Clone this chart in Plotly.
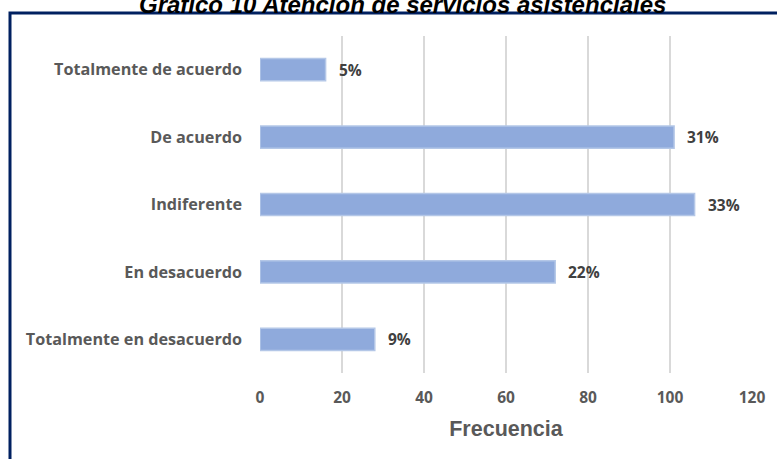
import plotly.graph_objects as go

categories = ["Totalmente de acuerdo", "De acuerdo", "Indiferente", "En desacuerdo", "Totalmente en desacuerdo"]
frecuencia = [16, 101, 106, 72, 28]
porcentajes = ["5%", "31%", "33%", "22%", "9%"]
x_ticks = [0, 20, 40, 60, 80, 100, 120]

W, H = 777, 459
L, R, T, B = 260, 25, 36, 86
pw, ph = W - L - R, H - T - B

def px_x(p):
    return (p - L) / pw

def px_y(p):
    return (H - B - p) / ph

FONT = "Open Sans"

fig = go.Figure()
fig.add_trace(go.Bar(
    y=categories, x=frecuencia, orientation="h",
    width=0.33,
    marker=dict(color="#8faadc", line=dict(color="#b4c7e7", width=1.5)),
    hoverinfo="skip",
))

for c, v, p in zip(categories, frecuencia, porcentajes):
    fig.add_annotation(x=v, y=c, xref="x", yref="y", text=p, showarrow=False,
                       xanchor="left", xshift=11,
                       font=dict(family=FONT, size=15.5, color="#404040", weight="bold"))

fig.add_annotation(x=px_x(402), y=px_y(4), xref="paper", yref="paper",
                   text="<b><i>Gráfico 10 Atención de servicios asistenciales</i></b>",
                   showarrow=False, xanchor="center", yanchor="middle",
                   font=dict(family="Liberation Sans", size=24, color="#000000"))

fig.add_shape(type="rect", xref="paper", yref="paper",
              x0=px_x(10), x1=px_x(800), y0=px_y(480), y1=px_y(13),
              line=dict(color="#002060", width=3), layer="above")

fig.update_layout(
    width=W, height=H,
    margin=dict(l=L, r=R, t=T, b=B),
    paper_bgcolor="white", plot_bgcolor="white",
    showlegend=False,
    xaxis=dict(range=[0, 120], tickvals=x_ticks, showgrid=True, gridcolor="#d9d9d9", gridwidth=2,
               zeroline=False, showline=False, ticks="",
               ticklabelstandoff=13,
               tickfont=dict(family=FONT, size=15.5, color="#595959", weight="bold"),
               title=dict(text="Frecuencia", standoff=14,
                          font=dict(family="Liberation Sans", size=21.5, color="#595959", weight="bold"))),
    yaxis=dict(autorange="reversed", showgrid=False, zeroline=False, showline=False, ticks="",
               ticklabelstandoff=17,
               tickfont=dict(family=FONT, size=16.2, color="#595959", weight="bold")),
)

fig.write_html("out.html", config={"displayModeBar": False},
               post_script="document.body.style.margin='0';document.body.style.overflow='hidden';")
